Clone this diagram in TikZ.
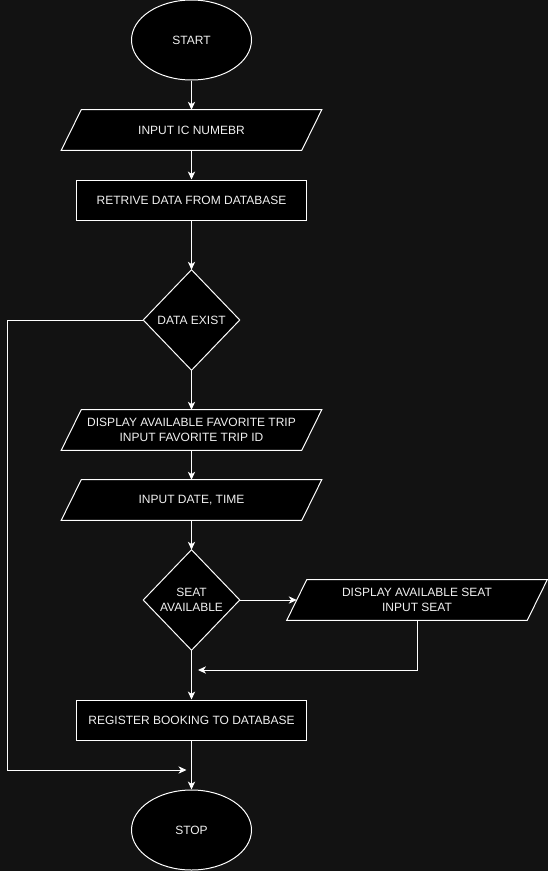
\documentclass[tikz,border=0pt]{standalone}
\usepackage{fontspec}
\setmainfont{Liberation Sans}
\usetikzlibrary{shapes.geometric,arrows.meta,calc}
\definecolor{bgc}{HTML}{121212}
\definecolor{txt}{HTML}{F0F0F0}
\pgfdeclarelayer{bg}
\pgfsetlayers{bg,main}
\begin{document}
\begin{tikzpicture}[x=0.75pt,y=-0.75pt,
  every node/.style={text=txt,font=\fontsize{9pt}{11.25pt}\selectfont,align=center,inner sep=0pt},
  term/.style={ellipse,draw=white,fill=black,line width=0.75pt,minimum width=90pt,minimum height=60pt},
  procbox/.style={rectangle,draw=white,fill=black,line width=0.75pt,minimum width=172.5pt,minimum height=30pt},
  iobox/.style={rectangle,minimum width=180pt,minimum height=30pt},
  decbox/.style={rectangle,minimum width=72pt,minimum height=75pt},
  shapeline/.style={draw=white,fill=black,line width=0.75pt,line join=miter},
  conn/.style={draw=white,line width=0.75pt,-{Stealth[length=6pt,width=5.5pt,inset=1.8pt]}}
]
\begin{pgfonlayer}{bg}
  \fill[bgc] (0,0) rectangle (548,871);
\end{pgfonlayer}
\useasboundingbox (0,0) rectangle (548,871);

\node[term] (start) at (191.5,40) {START};
\node[iobox] (ic) at (191.5,130) {INPUT IC NUMEBR};
\node[procbox] (ret) at (191.5,200) {RETRIVE DATA FROM DATABASE};
\node[decbox] (dex) at (191.5,320) {DATA EXIST};
\node[iobox] (fav) at (191.5,430) {DISPLAY AVAILABLE FAVORITE TRIP\\INPUT FAVORITE TRIP ID};
\node[iobox] (dt) at (191.5,500) {INPUT DATE, TIME};
\node[decbox] (seat) at (191.5,600) {SEAT\\AVAILABLE};
\node[iobox] (dseat) at (417,600) {DISPLAY AVAILABLE SEAT\\INPUT SEAT};
\node[procbox] (reg) at (191.5,720) {REGISTER BOOKING TO DATABASE};
\node[term] (stop) at (191.5,830) {STOP};

\begin{pgfonlayer}{bg}
  \foreach \n in {ic,fav,dt,dseat}{
    \path[shapeline] ($(\n.north west)+(10,0)$) -- ($(\n.north east)+(10,0)$)
      -- ($(\n.south east)+(-10,0)$) -- ($(\n.south west)+(-10,0)$) -- cycle;
  }
  \foreach \n in {dex,seat}{
    \path[shapeline] (\n.north) -- (\n.east) -- (\n.south) -- (\n.west) -- cycle;
  }
\end{pgfonlayer}

\coordinate (j1) at (198,670);
\coordinate (j2) at (186.5,770);

\draw[conn] (start) -- (ic);
\draw[conn] (ic) -- (ret);
\draw[conn] (ret) -- (dex);
\draw[conn] (dex) -- (fav);
\draw[conn] (fav) -- (dt);
\draw[conn] (dt) -- (seat);
\draw[conn] (seat) -- (reg);
\draw[conn] (seat.east) -- (dseat.west);
\draw[conn] (dseat.south) |- (j1);
\draw[conn] (reg) -- (stop);
\draw[conn] (dex.west) -- (7.5,320) |- (j2);
\end{tikzpicture}
\end{document}
